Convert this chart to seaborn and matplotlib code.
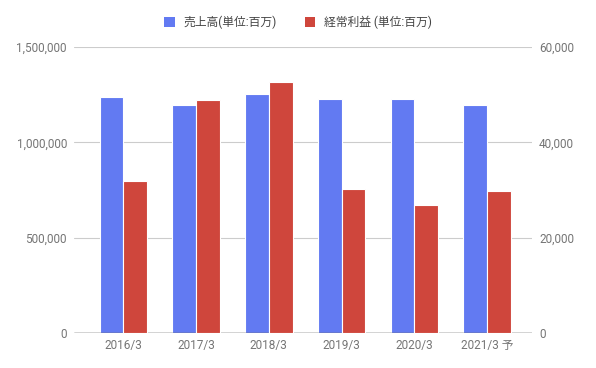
import matplotlib
matplotlib.use("Agg")
import matplotlib.pyplot as plt
import seaborn as sns
import pandas as pd
import numpy as np
from matplotlib.patches import Patch
from matplotlib.ticker import FuncFormatter

categories = ["2016/3", "2017/3", "2018/3", "2019/3", "2020/3", "2021/3 予"]
sales = [1239000, 1197000, 1253000, 1227000, 1227000, 1197000]
profit = [31950, 48900, 52700, 30200, 26900, 29800]
series_names = ["売上高(単位:百万)", "経常利益 (単位:百万)"]
left_ticks = [0, 500000, 1000000, 1500000]
right_ticks = [0, 20000, 40000, 60000]

BLUE = "#627AF2"
RED = "#CF463C"

sns.set_theme(style="white")
plt.rcParams["font.family"] = ["Roboto", "Noto Sans CJK JP", "DejaVu Sans"]

df_sales = pd.DataFrame({"cat": categories, "series": series_names[0], "val": sales})
df_profit = pd.DataFrame({"cat": categories, "series": series_names[1], "val": profit})

fig = plt.figure(figsize=(5.96, 3.68), dpi=100)
ax = fig.add_axes([0.124, 0.095, 0.769, 0.777])
ax2 = ax.twinx()

palette = {series_names[0]: BLUE, series_names[1]: RED}
df_left = pd.concat([df_sales, df_profit.assign(val=0.0)], ignore_index=True)
df_right = pd.concat([df_sales.assign(val=0.0), df_profit], ignore_index=True)

common = dict(x="cat", y="val", hue="series", hue_order=series_names, order=categories,
              palette=palette, width=0.65, legend=False, edgecolor="white",
              linewidth=0.8, saturation=1, errorbar=None)
sns.barplot(data=df_left, ax=ax, **common)
sns.barplot(data=df_right, ax=ax2, **common)

for a, ticks in ((ax, left_ticks), (ax2, right_ticks)):
    a.set_ylim(ticks[0], ticks[-1])
    a.set_yticks(ticks)
    a.yaxis.set_major_formatter(FuncFormatter(lambda v, p: f"{int(v):,}"))
    for s in a.spines.values():
        s.set_visible(False)
    a.set_xlabel("")
    a.set_ylabel("")
    a.tick_params(axis="both", length=0, labelsize=8.5, colors="#757575", pad=5)

ax.set_xlim(-0.68, 5.62)
ax.set_axisbelow(True)
ax.yaxis.grid(True, color="#CCCCCC", linewidth=0.8)
ax2.grid(False)
ax.axhline(0, color="#333333", linewidth=1.0, zorder=5)
ax.tick_params(axis="x", pad=4)

handles = [Patch(facecolor=BLUE, edgecolor="none"), Patch(facecolor=RED, edgecolor="none")]
fig.legend(handles, series_names, loc="center", bbox_to_anchor=(0.5, 0.94), ncol=2,
           frameon=False, fontsize=8.5, labelcolor="#444444", handlelength=0.9,
           handleheight=0.9, handletextpad=0.7, columnspacing=2.4)

fig.savefig("out.png", dpi=100)
